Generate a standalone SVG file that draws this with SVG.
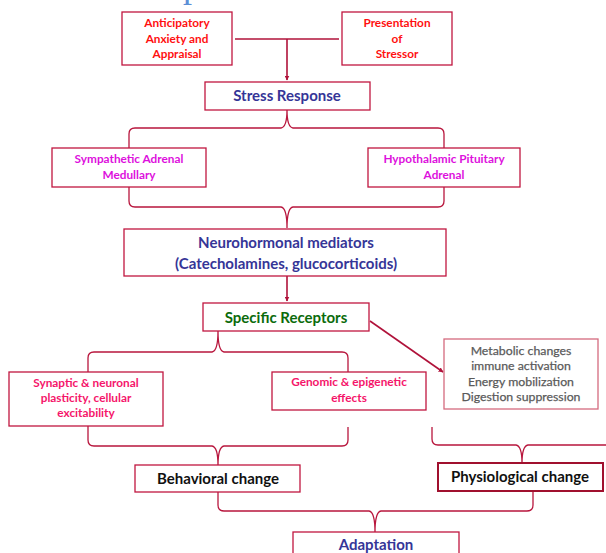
<svg xmlns="http://www.w3.org/2000/svg" width="606" height="553" viewBox="0 0 606 553">
<defs>
<style>
.box{fill:#fff;stroke:#c0163f;stroke-width:1.3}
.con{fill:none;stroke:#b0123a;stroke-width:1.6}
.brace{fill:none;stroke:#b8163d;stroke-width:1.3}
text{font-family:Lato,"Liberation Sans",sans-serif;font-weight:bold;text-anchor:middle}
.s{font-size:11.8px}
.m{font-size:15px}
.red{fill:#ff1010}
.mag{fill:#dd10dd}
.pink{fill:#f5156a}
.blue{fill:#353597}
.green{fill:#0b6b0b}
.gray{fill:#5a5a5a;font-size:12.3px;font-weight:normal;stroke:#5a5a5a;stroke-width:0.25}
.blk{fill:#111}
</style>
<marker id="ah" viewBox="0 0 10 10" refX="9" refY="5" markerWidth="5" markerHeight="5" orient="auto" markerUnits="userSpaceOnUse">
<path d="M0,0 L10,5 L0,10 z" fill="#b0123a"/>
</marker>
</defs>
<text x="183" y="-3" style="font-family:'Liberation Serif',serif;font-weight:normal;font-size:36px;fill:#5b8fd6;text-anchor:start">p</text>
<g id="connectors">
<path class="con" d="M235,39 L339,39"/>
<path class="con" d="M287,39 L287,80" marker-end="url(#ah)"/>
<path class="brace" d="M129,148 L129,134 Q129,128 135,128 L281,128 Q287,127 287,110 Q287,127 293,128 L438,128 Q444,128 444,134 L444,148"/>
<path class="brace" d="M129,187 L129,201 Q129,207 135,207 L281,207 Q287,208 287,228 Q287,208 293,207 L438,207 Q444,207 444,201 L444,187"/>
<path class="con" d="M287,276 L287,301" marker-end="url(#ah)"/>
<path class="con" d="M370,321 L443,372" marker-end="url(#ah)"/>
<path class="brace" d="M88,372 L88,358 Q88,352 94,352 L212,352 Q218,351 218,331 Q218,351 224,352 L342,352 Q348,352 348,358 L348,372"/>
<path class="brace" d="M88,426 L88,440 Q88,446 94,446 L212,446 Q218,447 218,465 Q218,447 224,446 L342,446 Q348,446 348,440 L348,427"/>
<path class="brace" d="M432,427 L432,439 Q432,445 438,445 L516,445 Q522,446 522,463 Q522,446 528,445 L606,445"/>
<path class="brace" d="M218,492 L218,505 Q218,511 224,511 L369,511 Q375,512 375,532 Q375,512 381,511 L527,511 Q533,511 533,505 L533,491"/>
</g>
<g id="anticipatory">
<rect class="box" x="122" y="12" width="110" height="53"/>
<text class="s red" x="177" y="27">Anticipatory</text>
<text class="s red" x="177" y="43">Anxiety and</text>
<text class="s red" x="177" y="58">Appraisal</text>
</g>
<g id="presentation">
<rect class="box" x="342" y="12" width="110" height="53"/>
<text class="s red" x="397" y="27">Presentation</text>
<text class="s red" x="397" y="43">of</text>
<text class="s red" x="397" y="58">Stressor</text>
</g>
<g id="stress">
<rect class="box" x="205" y="82" width="165" height="28"/>
<text class="m blue" x="287" y="101">Stress Response</text>
</g>
<g id="sympathetic">
<rect class="box" x="52" y="148" width="154" height="39"/>
<text class="s mag" x="129" y="163">Sympathetic Adrenal</text>
<text class="s mag" x="129" y="179">Medullary</text>
</g>
<g id="hypothalamic">
<rect class="box" x="368" y="148" width="152" height="39"/>
<text class="s mag" x="444" y="163">Hypothalamic Pituitary</text>
<text class="s mag" x="444" y="179">Adrenal</text>
</g>
<g id="neuro">
<rect class="box" x="124" y="229" width="322" height="47"/>
<text class="m blue" x="286" y="248">Neurohormonal mediators</text>
<text class="m blue" x="286" y="269">(Catecholamines, glucocorticoids)</text>
</g>
<g id="receptors">
<rect class="box" x="203" y="303" width="166" height="28"/>
<text class="m green" x="286" y="323">Specific Receptors</text>
</g>
<g id="metabolic">
<rect class="box" x="444" y="339" width="154" height="70" style="stroke:#d46a7e"/>
<text class="gray" x="521" y="355">Metabolic changes</text>
<text class="gray" x="521" y="370">immune activation</text>
<text class="gray" x="521" y="386">Energy mobilization</text>
<text class="gray" x="521" y="401">Digestion suppression</text>
</g>
<g id="synaptic">
<rect class="box" x="9" y="372" width="154" height="54"/>
<text class="s pink" x="86" y="387">Synaptic &amp; neuronal</text>
<text class="s pink" x="86" y="402">plasticity, cellular</text>
<text class="s pink" x="86" y="417">excitability</text>
</g>
<g id="genomic">
<rect class="box" x="272" y="372" width="154" height="38"/>
<text class="s pink" x="349" y="386">Genomic &amp; epigenetic</text>
<text class="s pink" x="349" y="402">effects</text>
</g>
<g id="behavioral">
<rect class="box" x="135" y="465" width="165" height="27"/>
<text class="m blk" x="218" y="484">Behavioral change</text>
</g>
<g id="physiological">
<rect class="box" x="438" y="463" width="165" height="28" style="stroke:#a0102e;stroke-width:2"/>
<text class="m blk" x="520" y="482">Physiological change</text>
</g>
<g id="adaptation">
<rect class="box" x="293" y="532" width="166" height="30"/>
<text class="m blue" x="376" y="550">Adaptation</text>
</g>
</svg>
